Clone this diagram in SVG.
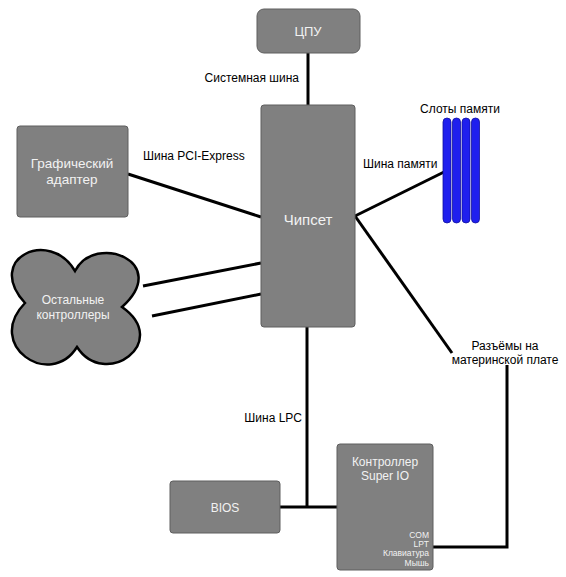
<svg xmlns="http://www.w3.org/2000/svg" width="566" height="577" viewBox="0 0 566 577">
<style>
.node{fill:#808080;stroke:#5e5e5e;stroke-width:1}
.nt{font-family:"Liberation Sans",Arial,sans-serif;fill:#f2f2f2;text-anchor:middle}
.nts{font-family:"Liberation Sans",Arial,sans-serif;fill:#f2f2f2;text-anchor:end;font-size:8.5px}
.lbl{font-family:"Liberation Sans",Arial,sans-serif;fill:#000;font-size:12px}
.wire{stroke:#000;stroke-width:3;fill:none;stroke-linecap:butt}
.slot{fill:#1f1fee;stroke:#1010a0;stroke-width:0.8}
</style>
<rect width="566" height="577" fill="#fff"/>
<g id="connectors">
<line class="wire" x1="308" y1="53" x2="308" y2="105"/>
<line class="wire" x1="128" y1="174" x2="261" y2="217"/>
<line class="wire" x1="143" y1="286" x2="261" y2="263"/>
<line class="wire" x1="152" y1="316" x2="261" y2="294"/>
<line class="wire" x1="355" y1="216" x2="444" y2="172"/>
<line class="wire" x1="355" y1="216" x2="452" y2="353"/>
<line class="wire" x1="307" y1="327" x2="307" y2="507"/>
<line class="wire" x1="280" y1="507" x2="337" y2="507"/>
<polyline class="wire" points="433,547 507,547 507,365"/>
</g>
<g id="cpu">
<rect class="node" x="257" y="9" width="103" height="44" rx="7"/>
<text class="nt" x="308" y="36" font-size="13">ЦПУ</text>
</g>
<g id="chipset">
<rect class="node" x="261" y="105" width="94" height="222" rx="3"/>
<text class="nt" x="308" y="225" font-size="15">Чипсет</text>
</g>
<g id="gpu">
<rect class="node" x="17" y="126" width="111" height="91" rx="3"/>
<text class="nt" x="72" y="168" font-size="13.5">Графический</text>
<text class="nt" x="72" y="184" font-size="13.5">адаптер</text>
</g>
<g id="others">
<path d="M75,271 C95,232 172,262 122,307 C172,342 105,390 77,347 C50,390 -16,345 25,303 C-16,258 50,228 75,271 Z" fill="#808080" stroke="#000" stroke-width="2.5"/>
<text class="nt" x="73" y="304" font-size="12">Остальные</text>
<text class="nt" x="73" y="319" font-size="12">контроллеры</text>
</g>
<g id="memory">
<rect class="slot" x="443" y="118" width="8" height="105" rx="4"/>
<rect class="slot" x="452.5" y="118" width="8" height="105" rx="4"/>
<rect class="slot" x="462" y="118" width="8" height="105" rx="4"/>
<rect class="slot" x="471.5" y="118" width="8" height="105" rx="4"/>
<text class="lbl" x="460" y="113" text-anchor="middle">Слоты памяти</text>
</g>
<g id="bios">
<rect class="node" x="170" y="481" width="110" height="52" rx="3"/>
<text class="nt" x="225" y="512" font-size="12">BIOS</text>
</g>
<g id="superio">
<rect class="node" x="337" y="444" width="96" height="126" rx="3"/>
<text class="nt" x="385" y="466" font-size="12">Контроллер</text>
<text class="nt" x="385" y="480" font-size="12">Super IO</text>
<text class="nts" x="429" y="538">COM</text>
<text class="nts" x="429" y="547">LPT</text>
<text class="nts" x="429" y="556">Клавиатура</text>
<text class="nts" x="429" y="566">Мышь</text>
</g>
<g id="labels">
<text class="lbl" x="299" y="82" text-anchor="end">Системная шина</text>
<text class="lbl" x="143" y="160">Шина PCI-Express</text>
<text class="lbl" x="363" y="168">Шина памяти</text>
<text class="lbl" x="505" y="350" text-anchor="middle">Разъёмы на</text>
<text class="lbl" x="505" y="364" text-anchor="middle">материнской плате</text>
<text class="lbl" x="302" y="422" text-anchor="end">Шина LPC</text>
</g>
</svg>
